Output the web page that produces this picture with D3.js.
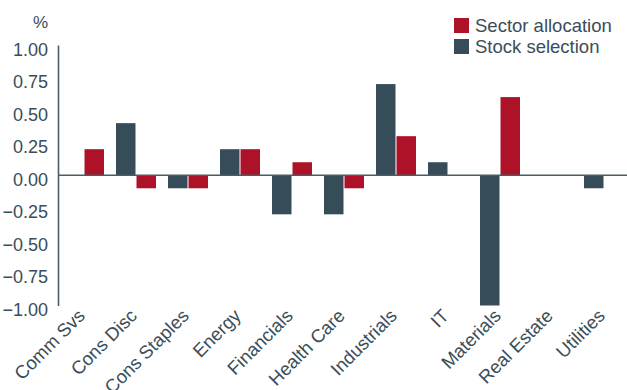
<!DOCTYPE html>
<html>
<head>
<meta charset="utf-8">
<script src="https://cdn.jsdelivr.net/npm/d3@7"></script>
<style>
  html, body { margin: 0; padding: 0; background: #fff; }
  svg { display: block; font-family: "Liberation Sans", Arial, sans-serif; }
</style>
</head>
<body>
<svg id="chart" width="627" height="390"></svg>
<script>
// Attribution by sector, in percentage points
const sectors = ["Comm Svs", "Cons Disc", "Cons Staples", "Energy", "Financials",
  "Health Care", "Industrials", "IT", "Materials", "Real Estate", "Utilities"];
const stockSelection   = [0, 0.4, -0.1, 0.2, -0.3, -0.3, 0.7, 0.1, -1.0, 0, -0.1];
const sectorAllocation = [0.2, -0.1, -0.1, 0.2, 0.1, -0.1, 0.3, 0, 0.6, 0, 0];
const yTicks = [1, 0.75, 0.5, 0.25, 0, -0.25, -0.5, -0.75, -1];
const seriesNames = ["Stock selection", "Sector allocation"];
const legendOrder = ["Sector allocation", "Stock selection"];

const colors = { "Sector allocation": "#ae1228", "Stock selection": "#364d59" };
const textColor = "#3b4d58";

const svg = d3.select("#chart");
const axisX = 58;

const y = d3.scaleLinear().domain([-1, 1]).range([305.5, 45]);
const x0 = d3.scaleBand().domain(sectors).range([axisX, axisX + 52 * sectors.length]);
const x1 = d3.scaleBand().domain(seriesNames).range([6, 46]).paddingInner(0.05);

const rows = sectors.map((s, i) => ({
  sector: s,
  values: [
    { key: "Stock selection", value: stockSelection[i] },
    { key: "Sector allocation", value: sectorAllocation[i] }
  ]
}));

// Bars
const groups = svg.append("g").selectAll("g")
  .data(rows).join("g")
  .attr("transform", d => `translate(${x0(d.sector)},0)`);

groups.selectAll("rect")
  .data(d => d.values).join("rect")
  .attr("x", d => x1(d.key))
  .attr("width", x1.bandwidth())
  .attr("y", d => y(Math.max(0, d.value)))
  .attr("height", d => Math.abs(y(d.value) - y(0)))
  .attr("fill", d => colors[d.key]);

// Zero line
svg.append("line")
  .attr("x1", axisX).attr("x2", 627)
  .attr("y1", y(0)).attr("y2", y(0))
  .attr("stroke", "#4a5c67").attr("stroke-width", 1.6);

// Y axis
const yAxis = svg.append("g")
  .attr("transform", `translate(${axisX},0)`)
  .call(d3.axisLeft(y).tickValues(yTicks).tickFormat(d3.format(".2f"))
    .tickSize(0).tickSizeOuter(0).tickPadding(10));
yAxis.select(".domain").attr("stroke", "#4a5c67").attr("stroke-width", 1.6);
yAxis.selectAll("text")
  .attr("fill", textColor)
  .attr("font-size", 18)
  .attr("font-family", "Liberation Sans, Arial, sans-serif")
  .attr("dy", 10);

// Unit label
svg.append("text")
  .attr("x", 48).attr("y", 28)
  .attr("text-anchor", "end")
  .attr("fill", textColor)
  .attr("font-size", 17)
  .text("%");

// Category labels, rotated under each group
svg.append("g").selectAll("text")
  .data(sectors).join("text")
  .attr("transform", d => `translate(${x0(d) + x0.bandwidth() / 2 + 2},${317}) rotate(-45)`)
  .attr("text-anchor", "end")
  .attr("fill", textColor)
  .attr("font-size", 18.5)
  .text(d => d);

// Legend
const legend = svg.append("g").selectAll("g")
  .data(legendOrder).join("g")
  .attr("transform", (d, i) => `translate(454,${18 + i * 21})`);
legend.append("rect")
  .attr("width", 15).attr("height", 15)
  .attr("fill", d => colors[d]);
legend.append("text")
  .attr("x", 21).attr("y", 14)
  .attr("fill", textColor)
  .attr("font-size", 18.5)
  .text(d => d);
</script>
</body>
</html>
